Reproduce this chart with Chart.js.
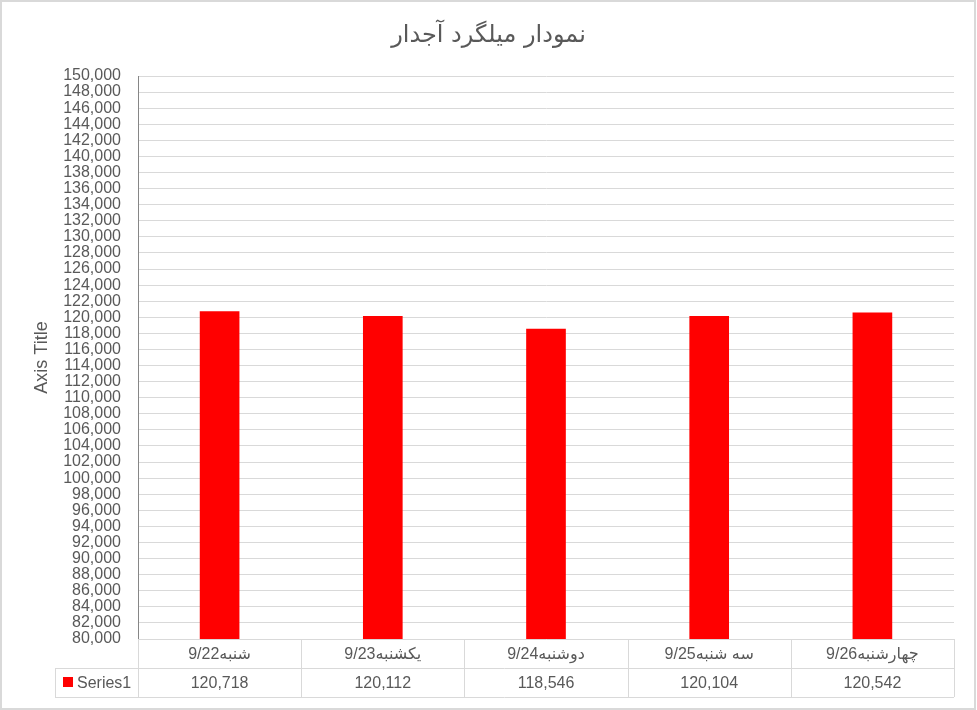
<!DOCTYPE html>
<html>
<head>
<meta charset="utf-8">
<script src="https://cdn.jsdelivr.net/npm/chart.js@4"></script>
<style>
  html, body { margin: 0; padding: 0; background: #fff; }
  #wrap { width: 977px; height: 710px; position: relative; }
</style>
</head>
<body>
<div id="wrap"><canvas id="chart"></canvas></div>
<script>
// chart data
const chartTitle = 'نمودار میلگرد آجدار';
const axisTitle = 'Axis Title';
const seriesName = 'Series1';
const categories = ['شنبه9/22', 'یکشنبه9/23', 'دوشنبه9/24', 'سه شنبه9/25', 'چهارشنبه9/26'];
const values = [120718, 120112, 118546, 120104, 120542];
const yMin = 80000;
const yMax = 150000;
const yStep = 2000;

const TXT = '#595959';
const GRID = '#d9d9d9';
const RED = '#ff0000';
const FONT = '"Liberation Sans", "DejaVu Sans", sans-serif';

// draws the title, the data table under the plot and the outer frame
const tablePlugin = {
  id: 'dataTable',
  afterDraw(chart) {
    const ctx = chart.ctx;
    const x = chart.scales.x;
    const area = chart.chartArea;
    const n = categories.length;
    const colW = (area.right - area.left) / n;
    const rowH = 29;
    const top = area.bottom;
    const keyLeft = 55;

    ctx.save();

    // title
    ctx.fillStyle = TXT;
    ctx.font = '24px "DejaVu Sans", sans-serif';
    ctx.textAlign = 'center';
    ctx.textBaseline = 'middle';
    ctx.direction = 'rtl';
    ctx.fillText(chartTitle, chart.width / 2, 36);
    ctx.direction = 'ltr';

    // table lines
    ctx.strokeStyle = GRID;
    ctx.lineWidth = 1;
    ctx.beginPath();
    for (let i = 0; i <= n; i++) {
      const px = Math.round(area.left + i * colW) + 0.5;
      ctx.moveTo(px, top);
      ctx.lineTo(px, top + rowH * 2);
    }
    ctx.moveTo(keyLeft + 0.5, top + rowH);
    ctx.lineTo(keyLeft + 0.5, top + rowH * 2);
    ctx.moveTo(keyLeft, top + rowH + 0.5);
    ctx.lineTo(area.right, top + rowH + 0.5);
    ctx.moveTo(keyLeft, top + rowH * 2 + 0.5);
    ctx.lineTo(area.right, top + rowH * 2 + 0.5);
    ctx.stroke();

    // category labels and values
    ctx.fillStyle = TXT;
    ctx.font = '16px ' + FONT;
    ctx.textAlign = 'center';
    ctx.textBaseline = 'middle';
    categories.forEach((c, i) => {
      const cx = x.getPixelForValue(i);
      ctx.direction = 'rtl';
      ctx.fillText(c, cx, top + rowH / 2 + 1);
      ctx.direction = 'ltr';
      ctx.fillText(values[i].toLocaleString('en-US'), cx, top + rowH * 1.5 + 1);
    });

    // legend key
    ctx.fillStyle = RED;
    ctx.fillRect(63, top + rowH + 9, 10, 10);
    ctx.fillStyle = TXT;
    ctx.textAlign = 'left';
    ctx.fillText(seriesName, 77, top + rowH * 1.5 + 1);

    // outer frame
    ctx.strokeStyle = GRID;
    ctx.lineWidth = 2;
    ctx.strokeRect(1, 1, chart.width - 3, chart.height - 2);

    ctx.restore();
  }
};

new Chart(document.getElementById('chart'), {
  type: 'bar',
  data: {
    labels: categories,
    datasets: [{
      label: seriesName,
      data: values,
      backgroundColor: RED,
      borderWidth: 0,
      barThickness: 39
    }]
  },
  options: {
    responsive: true,
    maintainAspectRatio: false,
    animation: false,
    layout: { padding: { top: 76, bottom: 71, right: 23, left: 0 } },
    plugins: {
      legend: { display: false },
      title: { display: false },
      tooltip: { enabled: false }
    },
    scales: {
      x: { display: false, offset: true },
      y: {
        min: yMin,
        max: yMax,
        afterFit: s => { s.width = 138; },
        ticks: {
          stepSize: yStep,
          autoSkip: false,
          color: TXT,
          padding: 17,
          font: { family: FONT, size: 16 },
          callback: v => v.toLocaleString('en-US')
        },
        grid: { color: GRID, drawTicks: false },
        border: { color: '#868686', width: 1 },
        title: {
          display: true,
          text: axisTitle,
          color: TXT,
          font: { family: FONT, size: 18 },
          padding: { top: 31, bottom: 0 }
        }
      }
    }
  },
  plugins: [tablePlugin]
});
</script>
</body>
</html>
